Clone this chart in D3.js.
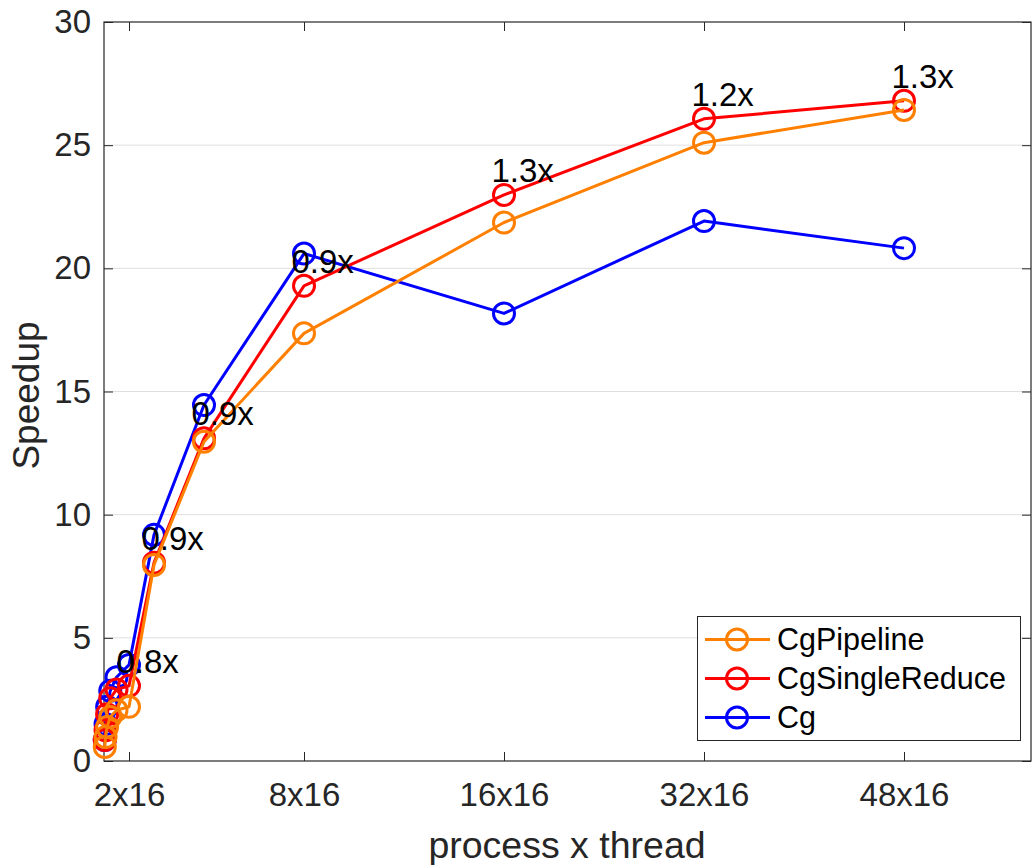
<!DOCTYPE html>
<html>
<head>
<meta charset="utf-8">
<script src="https://cdn.jsdelivr.net/npm/d3@7"></script>
<style>
    body { margin: 0; background: #fff; }
    text { font-family: 'Liberation Sans', Arial, sans-serif; }
</style>
</head>
<body>
<script>
// x position in plot units (1 unit = one 16 thread node)
var xVals = [1/32, 1/16, 1/8, 1/4, 1/2, 1, 2, 4, 8, 16, 24, 32];
var xTicks = [1, 8, 16, 24, 32];
var xTickLabels = ["2x16", "8x16", "16x16", "32x16", "48x16"];
var yTicks = [0, 5, 10, 15, 20, 25, 30];

var cgPipeline     = [0.57, 0.97, 1.38, 1.79, 2.06, 2.2, 7.96, 12.96, 17.36, 21.86, 25.1, 26.43];
var cgSingleReduce = [0.85, 1.25, 1.9, 2.55, 2.9, 3.05, 8.05, 13.1, 19.29, 22.98, 26.07, 26.8];
var cg             = [0.85, 1.5, 2.2, 2.85, 3.4, 3.9, 9.18, 14.45, 20.6, 18.17, 21.92, 20.82];

// points that get a ratio label (CgSingleReduce / Cg)
var labelAt = [1, 2, 4, 8, 16, 24, 32];

var seriesNames = ["CgPipeline", "CgSingleReduce", "Cg"];
var seriesColors = ["#ff8000", "#ff0000", "#0000ff"];
var seriesValues = [cgPipeline, cgSingleReduce, cg];

var W = 1032, H = 865;
var plotLeft = 104, plotRight = 1031, plotTop = 22, plotBottom = 761;
var axisColor = '#262626';
var lw = 3, markerR = 10.5;

var svg = d3.select('body').append('svg')
    .attr('width', W)
    .attr('height', H);

var x = d3.scaleLinear().domain([0, (plotRight - plotLeft) / 25]).range([plotLeft, plotRight]);
var y = d3.scaleLinear().domain([0, 30]).range([plotBottom, plotTop]);

// grid
svg.append('g').selectAll('line')
    .data(yTicks.slice(1, -1))
    .join('line')
    .attr('x1', plotLeft).attr('x2', plotRight)
    .attr('y1', function (d) { return y(d); })
    .attr('y2', function (d) { return y(d); })
    .attr('stroke', '#dfdfdf')
    .attr('stroke-width', 1);

// axes
var xAxis = svg.append('g')
    .attr('transform', 'translate(0,' + plotBottom + ')')
    .call(d3.axisBottom(x).tickValues(xTicks)
        .tickFormat(function (d, i) { return xTickLabels[i]; })
        .tickSizeInner(-9).tickSizeOuter(0).tickPadding(22));

var xAxisTop = svg.append('g')
    .attr('transform', 'translate(0,' + plotTop + ')')
    .call(d3.axisTop(x).tickValues(xTicks).tickFormat('')
        .tickSizeInner(-9).tickSizeOuter(0));

var yAxis = svg.append('g')
    .attr('transform', 'translate(' + plotLeft + ',0)')
    .call(d3.axisLeft(y).tickValues(yTicks)
        .tickSizeInner(-9).tickSizeOuter(0).tickPadding(13));

var yAxisRight = svg.append('g')
    .attr('transform', 'translate(' + plotRight + ',0)')
    .call(d3.axisRight(y).tickValues(yTicks).tickFormat('')
        .tickSizeInner(-9).tickSizeOuter(0));

[xAxis, xAxisTop, yAxis, yAxisRight].forEach(function (g) {
    g.select('.domain').remove();
    g.selectAll('line').attr('stroke', axisColor).attr('stroke-width', 1);
    g.selectAll('text')
        .attr('fill', axisColor)
        .attr('font-size', 33)
        .attr('font-family', "'Liberation Sans', Arial, sans-serif");
});

svg.append('rect')
    .attr('x', plotLeft).attr('y', plotTop)
    .attr('width', plotRight - plotLeft).attr('height', plotBottom - plotTop)
    .attr('fill', 'none')
    .attr('stroke', axisColor)
    .attr('stroke-width', 1.2);

svg.append('text')
    .attr('x', 567)
    .attr('y', 858)
    .attr('text-anchor', 'middle')
    .attr('font-size', 37.5)
    .attr('fill', axisColor)
    .text('process x thread');

svg.append('text')
    .attr('transform', 'translate(39,' + ((plotTop + plotBottom) / 2 + 4) + ') rotate(-90)')
    .attr('text-anchor', 'middle')
    .attr('font-size', 37)
    .attr('fill', axisColor)
    .text('Speedup');

// series, drawn Cg first so CgPipeline ends on top
var line = d3.line()
    .x(function (d, i) { return x(xVals[i]); })
    .y(function (d) { return y(d); });

[2, 1, 0].forEach(function (s) {
    var g = svg.append('g');
    g.append('path')
        .datum(seriesValues[s])
        .attr('d', line)
        .attr('fill', 'none')
        .attr('stroke', seriesColors[s])
        .attr('stroke-width', lw)
        .attr('stroke-linejoin', 'round');
    g.selectAll('circle')
        .data(seriesValues[s])
        .join('circle')
        .attr('cx', function (d, i) { return x(xVals[i]); })
        .attr('cy', function (d) { return y(d); })
        .attr('r', markerR)
        .attr('fill', 'none')
        .attr('stroke', seriesColors[s])
        .attr('stroke-width', lw);
});

// ratio labels
svg.append('g').selectAll('text')
    .data(labelAt)
    .join('text')
    .attr('x', function (d) { return x(d - 0.5); })
    .attr('y', function (d) { var i = xVals.indexOf(d); return y(cgSingleReduce[i] + 1); })
    .attr('dy', '0.35em')
    .attr('font-size', 33)
    .attr('fill', '#000')
    .text(function (d) {
        var i = xVals.indexOf(d);
        return d3.format('.1f')(cgSingleReduce[i] / cg[i]) + 'x';
    });

// legend
var legend = svg.append('g');
legend.append('rect')
    .attr('x', 697.5).attr('y', 616.5)
    .attr('width', 323).attr('height', 124)
    .attr('fill', '#fff')
    .attr('stroke', axisColor)
    .attr('stroke-width', 1);

seriesNames.forEach(function (name, i) {
    var cy = 639.5 + i * 39;
    legend.append('line')
        .attr('x1', 705).attr('x2', 770)
        .attr('y1', cy).attr('y2', cy)
        .attr('stroke', seriesColors[i])
        .attr('stroke-width', lw);
    legend.append('circle')
        .attr('cx', 737).attr('cy', cy)
        .attr('r', markerR)
        .attr('fill', 'none')
        .attr('stroke', seriesColors[i])
        .attr('stroke-width', lw);
    legend.append('text')
        .attr('x', 777).attr('y', cy)
        .attr('dy', '0.35em')
        .attr('font-size', 30.5)
        .attr('fill', '#000')
        .text(name);
});
</script>
</body>
</html>
